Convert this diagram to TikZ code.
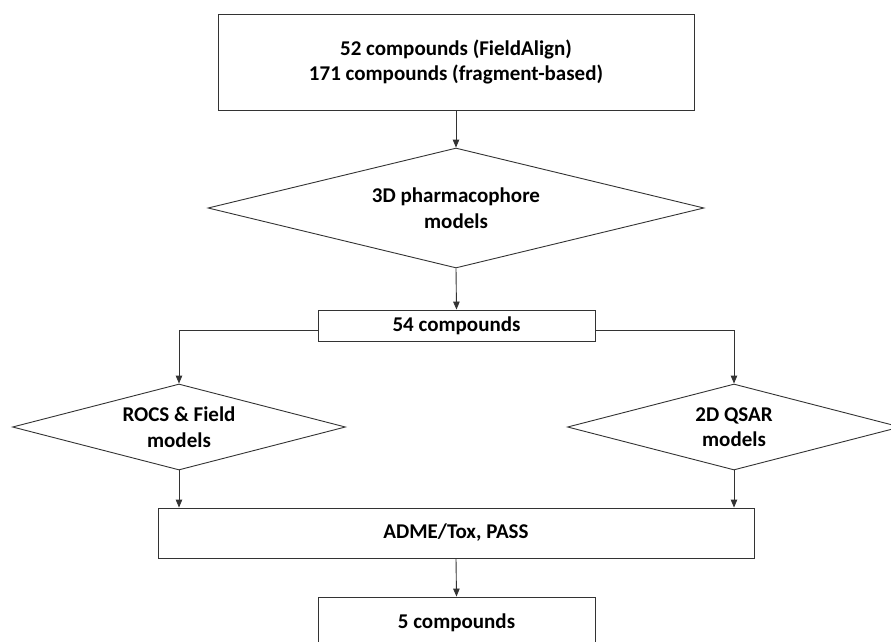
\documentclass[tikz,border=0pt]{standalone}
\usepackage{fontspec}
\setmainfont{Carlito}
\usetikzlibrary{shapes.geometric,arrows.meta}
\tikzset{
  base/.style={draw=black!80, line width=0.9pt, fill=white, align=center, inner sep=0pt,
    font=\bfseries\fontsize{21}{25.5}\selectfont, text=black},
  boxnode/.style={base, rectangle},
  decnode/.style={base, diamond},
  conn/.style={draw=black!80, line width=0.9pt, -{Triangle[length=8pt,width=6.5pt]}},
}
\begin{document}
\begin{tikzpicture}[x=1pt,y=-1pt]
\useasboundingbox (0,0) rectangle (891,642);
\begin{scope}
\clip (0,0) rectangle (891,642);
\node[boxnode, minimum width=476pt, minimum height=96pt] (top) at (456,62) {52 compounds (FieldAlign)\\171 compounds (fragment-based)};
\node[decnode, minimum width=496pt, minimum height=120pt, aspect=4.1] (d1) at (456,208) {3D pharmacophore\\models};
\node[boxnode, minimum width=277pt, minimum height=31pt] (b54) at (456.5,325.5) {54 compounds};
\node[decnode, minimum width=333pt, minimum height=86pt, aspect=3.8] (dl) at (179,427) {ROCS \& Field\\models};
\node[decnode, minimum width=333pt, minimum height=86pt, aspect=3.8] (dr) at (734,427) {2D QSAR\\models};
\node[boxnode, minimum width=596pt, minimum height=50pt] (adme) at (456,533) {ADME/Tox, PASS};
\node[boxnode, minimum width=277pt, minimum height=52pt] (b5) at (456.5,623) {5 compounds};
\draw[conn] (top.south) -- (d1.north);
\draw[conn] (d1.south) -- (b54.north);
\draw[conn] ([yshift=-5pt]b54.west) -| (dl.north);
\draw[conn] ([yshift=-5pt]b54.east) -| (dr.north);
\draw[conn] (dl.south) -- (dl.south |- adme.north);
\draw[conn] (dr.south) -- (dr.south |- adme.north);
\draw[conn] (adme.south) -- (b5.north);
\end{scope}
\end{tikzpicture}
\end{document}
